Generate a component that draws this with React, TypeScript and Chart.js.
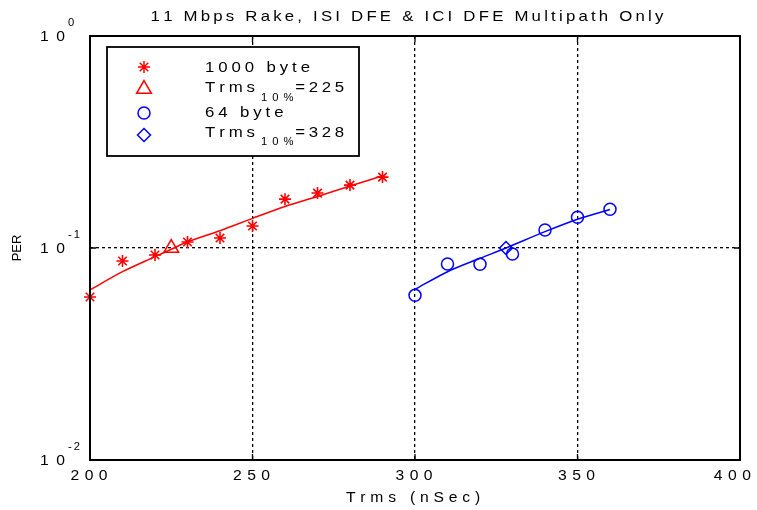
import React, { useEffect, useRef } from 'react';
import { Chart, registerables } from 'chart.js';

Chart.register(...registerables);

// ---------- data ----------
const TITLE = '11 Mbps Rake, ISI DFE & ICI DFE Multipath Only';
const X_LABEL = 'Trms (nSec)';
const Y_LABEL = 'PER';
const X_MIN = 200;
const X_MAX = 400;
const X_STEP = 50;
const Y_TICKS = [0.01, 0.1, 1];
const Y_TICK_BASE = '10';
const Y_TICK_EXP = ['-2', '-1', '0'];

// 1000 byte packets: measured PER
const TRMS_1000 = [200, 210, 220, 230, 240, 250, 260, 270, 280, 290];
const PER_1000 = [0.0587, 0.0868, 0.0927, 0.1067, 0.1114, 0.127, 0.170, 0.1816, 0.198, 0.216];
// 1000 byte fitted curve
const FIT_TRMS_1000 = [200, 210, 220, 225, 230, 240, 250, 260, 270, 280, 290];
const FIT_PER_1000 = [0.0634, 0.0773, 0.091, 0.0986, 0.107, 0.1207, 0.138, 0.157, 0.175, 0.196, 0.219];
// Trms at 10% PER (1000 byte)
const T10_TRMS_1000 = [225];
const T10_PER_1000 = [0.1];

// 64 byte packets: measured PER
const TRMS_64 = [300, 310, 320, 330, 340, 350, 360];
const PER_64 = [0.0598, 0.084, 0.0838, 0.0937, 0.1215, 0.1396, 0.1524];
// 64 byte fitted curve
const FIT_TRMS_64 = [300, 310, 320, 328, 340, 350, 360];
const FIT_PER_64 = [0.0638, 0.0773, 0.0894, 0.1, 0.1194, 0.1366, 0.152];
// Trms at 10% PER (64 byte)
const T10_TRMS_64 = [328];
const T10_PER_64 = [0.1];

const LEGEND_ROWS = [
  { marker: 'star', color: '#ff0000', text: '1000 byte', sub: '', tail: '' },
  { marker: 'triangle', color: '#ff0000', text: 'Trms', sub: '10%', tail: '=225' },
  { marker: 'circle', color: '#0000ff', text: '64 byte', sub: '', tail: '' },
  { marker: 'diamond', color: '#0000ff', text: 'Trms', sub: '10%', tail: '=328' },
];

// ---------- helpers ----------
const FONT = '"Liberation Sans", Arial, Helvetica, sans-serif';
const RED = '#ff0000';
const BLUE = '#0000ff';
const STRETCH = 1.12;

const pts = (xs: number[], ys: number[]) => xs.map((x, i) => ({ x, y: ys[i] }));

function textWidth(ctx: CanvasRenderingContext2D, text: string, spacing: number, sx = STRETCH) {
  const chars = [...text];
  return chars.reduce((a, c) => a + ctx.measureText(c).width * sx, 0) + spacing * (chars.length - 1);
}

function spaced(ctx: CanvasRenderingContext2D, text: string, x: number, y: number, spacing: number, align: 'left' | 'center' | 'right', sx = STRETCH) {
  const chars = [...text];
  const widths = chars.map((c) => ctx.measureText(c).width * sx);
  const total = widths.reduce((a, b) => a + b, 0) + spacing * (chars.length - 1);
  let cx = align === 'left' ? x : align === 'center' ? x - total / 2 : x - total;
  ctx.textAlign = 'left';
  chars.forEach((c, i) => {
    ctx.save();
    ctx.translate(cx, y);
    ctx.scale(sx, 1);
    ctx.fillText(c, 0, 0);
    ctx.restore();
    cx += widths[i] + spacing;
  });
  return cx - spacing;
}

function marker(ctx: CanvasRenderingContext2D, kind: string, x: number, y: number, r: number, color: string) {
  ctx.save();
  ctx.strokeStyle = color;
  ctx.lineWidth = 1.5;
  ctx.beginPath();
  if (kind === 'star') {
    for (let k = 0; k < 4; k++) {
      const a = (k * Math.PI) / 4;
      ctx.moveTo(x - Math.cos(a) * r, y - Math.sin(a) * r);
      ctx.lineTo(x + Math.cos(a) * r, y + Math.sin(a) * r);
    }
  } else if (kind === 'triangle') {
    for (let k = 0; k < 3; k++) {
      const a = (k * 2 * Math.PI) / 3;
      const px = x + Math.sin(a) * r;
      const py = y - Math.cos(a) * r;
      if (k === 0) ctx.moveTo(px, py);
      else ctx.lineTo(px, py);
    }
    ctx.closePath();
  } else if (kind === 'circle') {
    ctx.arc(x, y, r, 0, Math.PI * 2);
  } else {
    ctx.moveTo(x - r, y);
    ctx.lineTo(x, y - r);
    ctx.lineTo(x + r, y);
    ctx.lineTo(x, y + r);
    ctx.closePath();
  }
  ctx.stroke();
  ctx.restore();
}

const decorPlugin = {
  id: 'decor',
  afterDatasetsDraw(chart: any) {
    const { ctx, chartArea: a, scales } = chart;
    const xs = scales.x;
    const ys = scales.y;
    ctx.save();
    // inward tick marks
    ctx.strokeStyle = '#000';
    ctx.lineWidth = 1.3;
    ctx.beginPath();
    xs.ticks.forEach((t: any) => {
      const px = xs.getPixelForValue(t.value);
      ctx.moveTo(px, a.bottom);
      ctx.lineTo(px, a.bottom - 6);
      ctx.moveTo(px, a.top);
      ctx.lineTo(px, a.top + 6);
    });
    Y_TICKS.forEach((v) => {
      const py = ys.getPixelForValue(v);
      ctx.moveTo(a.left, py);
      ctx.lineTo(a.left + 6, py);
      ctx.moveTo(a.right, py);
      ctx.lineTo(a.right - 6, py);
    });
    ctx.stroke();
    // frame
    ctx.lineWidth = 2;
    ctx.strokeRect(a.left, a.top, a.right - a.left, a.bottom - a.top);

    // legend
    const lx = a.left + 17;
    const ly = a.top + 11;
    const lw = 252;
    const lh = 109;
    ctx.fillStyle = '#fff';
    ctx.fillRect(lx, ly, lw, lh);
    ctx.lineWidth = 1.8;
    ctx.strokeStyle = '#000';
    ctx.strokeRect(lx, ly, lw, lh);
    const rowBase = [24.5, 45, 69.5, 89.5];
    const markerY = [20, 42, 66, 88];
    const radii: Record<string, number> = { star: 6, triangle: 8.5, circle: 6, diamond: 6.5 };
    LEGEND_ROWS.forEach((row, i) => {
      marker(ctx, row.marker, lx + 37, ly + markerY[i], radii[row.marker], row.color);
      ctx.fillStyle = '#000';
      ctx.font = `15px ${FONT}`;
      let ex = spaced(ctx, row.text, lx + 98, ly + rowBase[i], 3.9, 'left');
      if (row.sub) {
        ctx.font = `10px ${FONT}`;
        ex = spaced(ctx, row.sub, ex + 6, ly + rowBase[i] + 8.5, 5, 'left');
        ctx.font = `15px ${FONT}`;
        spaced(ctx, row.tail, ex + 2, ly + rowBase[i], 3.6, 'left');
      }
    });
    ctx.restore();
  },
  afterDraw(chart: any) {
    const { ctx, chartArea: a, scales } = chart;
    const xs = scales.x;
    const ys = scales.y;
    ctx.save();
    ctx.fillStyle = '#000';
    ctx.textBaseline = 'alphabetic';
    // title
    ctx.font = `15px ${FONT}`;
    spaced(ctx, TITLE, (a.left + a.right) / 2 - 8, 21, 3.2, 'center');
    // x tick labels
    ctx.font = `14px ${FONT}`;
    xs.ticks.forEach((t: any) => {
      const px = xs.getPixelForValue(t.value);
      const w = textWidth(ctx, String(t.value), 5.5);
      const left = Math.min(px - 1 - w / 2, chart.width - 6 - w);
      spaced(ctx, String(t.value), left, a.bottom + 19.5, 5.5, 'left');
    });
    // x label
    spaced(ctx, X_LABEL, (a.left + a.right) / 2 - 2, a.bottom + 42, 4.8, 'center');
    // y tick labels with superscript exponent
    Y_TICKS.forEach((v, i) => {
      const py = ys.getPixelForValue(v);
      ctx.font = `14px ${FONT}`;
      spaced(ctx, Y_TICK_BASE, 40, py + 5, 7.5, 'left');
      ctx.font = `10px ${FONT}`;
      spaced(ctx, Y_TICK_EXP[i], 68, py - 10.5, 2, 'left');
    });
    // y label
    ctx.font = `13px ${FONT}`;
    ctx.translate(20.5, (a.top + a.bottom) / 2);
    ctx.rotate(-Math.PI / 2);
    ctx.textAlign = 'center';
    ctx.fillText(Y_LABEL, 0, 0);
    ctx.restore();
  },
};

export default function App() {
  const ref = useRef<HTMLCanvasElement>(null);

  useEffect(() => {
    document.body.style.margin = '0';
    const canvas = ref.current;
    if (!canvas) return;
    const gridDash = [3, 3];
    const chart = new Chart(canvas, {
      type: 'scatter',
      data: {
        datasets: [
          {
            label: '1000 byte',
            data: pts(TRMS_1000, PER_1000),
            pointStyle: 'star',
            pointRadius: 6,
            borderColor: RED,
            backgroundColor: 'rgba(0,0,0,0)',
            pointBorderWidth: 1.6,
            showLine: false,
            clip: false,
            order: 1,
          },
          {
            label: 'Trms10% 1000',
            data: pts(T10_TRMS_1000, T10_PER_1000),
            pointStyle: 'triangle',
            pointRadius: 8.5,
            borderColor: RED,
            backgroundColor: 'rgba(0,0,0,0)',
            pointBorderWidth: 1.5,
            showLine: false,
            clip: false,
            order: 1,
          },
          {
            label: 'fit 1000',
            data: pts(FIT_TRMS_1000, FIT_PER_1000),
            pointRadius: 0,
            borderColor: RED,
            borderWidth: 1.5,
            showLine: true,
            tension: 0.3,
            clip: false,
            order: 2,
          },
          {
            label: '64 byte',
            data: pts(TRMS_64, PER_64),
            pointStyle: 'circle',
            pointRadius: 6,
            borderColor: BLUE,
            backgroundColor: 'rgba(0,0,0,0)',
            pointBorderWidth: 1.5,
            showLine: false,
            clip: false,
            order: 1,
          },
          {
            label: 'Trms10% 64',
            data: pts(T10_TRMS_64, T10_PER_64),
            pointStyle: 'rectRot',
            pointRadius: 6.5,
            borderColor: BLUE,
            backgroundColor: 'rgba(0,0,0,0)',
            pointBorderWidth: 1.5,
            showLine: false,
            clip: false,
            order: 1,
          },
          {
            label: 'fit 64',
            data: pts(FIT_TRMS_64, FIT_PER_64),
            pointRadius: 0,
            borderColor: BLUE,
            borderWidth: 1.5,
            showLine: true,
            tension: 0.3,
            clip: false,
            order: 2,
          },
        ],
      },
      options: {
        animation: false,
        responsive: false,
        devicePixelRatio: 1,
        layout: { padding: { top: 36, right: 17, left: 0, bottom: 0 } },
        plugins: {
          legend: { display: false },
          title: { display: false },
          tooltip: { enabled: false },
        },
        scales: {
          x: {
            type: 'linear',
            min: X_MIN,
            max: X_MAX,
            ticks: { display: false, stepSize: X_STEP },
            grid: { color: '#000', lineWidth: 1.3, drawTicks: false, tickLength: 0 },
            border: { display: false, dash: gridDash },
            afterFit: (s: any) => {
              s.height = 50;
              s.paddingLeft = 0;
              s.paddingRight = 0;
            },
          },
          y: {
            type: 'logarithmic',
            min: 0.01,
            max: 1,
            afterBuildTicks: (s: any) => {
              s.ticks = Y_TICKS.map((v) => ({ value: v, major: true }));
            },
            ticks: { display: false },
            grid: { color: '#000', lineWidth: 1.3, drawTicks: false, tickLength: 0 },
            border: { display: false, dash: gridDash },
            afterFit: (s: any) => {
              s.width = 90;
              s.paddingTop = 0;
              s.paddingBottom = 0;
            },
          },
        },
      },
      plugins: [decorPlugin],
    } as any);
    return () => chart.destroy();
  }, []);

  return (
    <div style={{ width: 757, height: 510, background: '#fff' }}>
      <canvas ref={ref} width={757} height={510} style={{ display: 'block' }} />
    </div>
  );
}
